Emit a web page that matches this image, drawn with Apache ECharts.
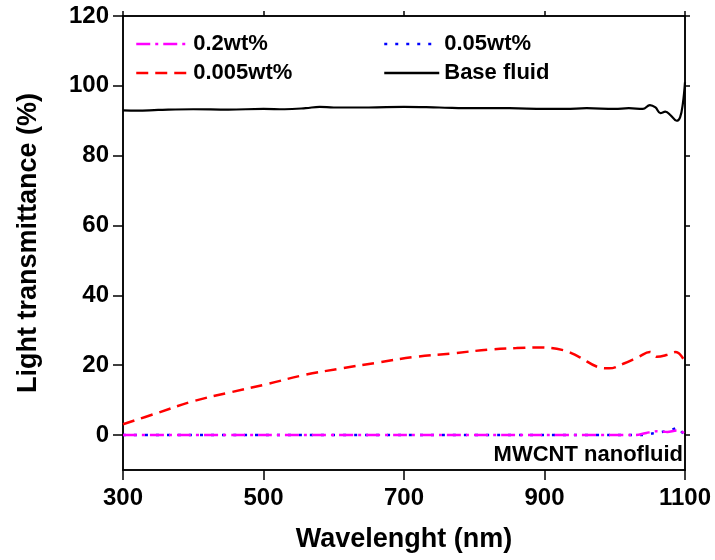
<!DOCTYPE html>
<html>
<head>
<meta charset="utf-8">
<script src="https://cdn.jsdelivr.net/npm/echarts@6.0.0/dist/echarts.min.js"></script>
<style>html,body{margin:0;padding:0;background:#fff}#c{width:715px;height:560px}</style>
</head>
<body>
<div id="c"></div>
<script>
// ---- data ----
const seriesNames = ['0.2wt%', '0.05wt%', '0.005wt%', 'Base fluid'];
const xTicks = [300, 500, 700, 900, 1100];
const yTicks = [0, 20, 40, 60, 80, 100, 120];

const baseX = [300, 320, 350, 400, 450, 500, 530, 560, 580, 600, 650, 700, 750, 800, 850, 900, 930, 960, 1000, 1020, 1040, 1050, 1058, 1065, 1072, 1080, 1088, 1093, 1097, 1100];
const baseY = [93.0, 92.9, 93.1, 93.3, 93.2, 93.4, 93.3, 93.6, 94.0, 93.8, 93.8, 94.0, 93.8, 93.6, 93.6, 93.4, 93.4, 93.6, 93.4, 93.6, 93.4, 94.5, 93.8, 92.2, 92.6, 91.5, 90.0, 91.0, 95.0, 101.0];

const redX = [300, 347, 400, 452, 505, 558, 611, 664, 716, 769, 822, 860, 891, 927, 949, 976, 992, 1013, 1034, 1050, 1060, 1075, 1087, 1100];
const redY = [3.1, 6.2, 9.7, 12.2, 14.6, 17.2, 19.1, 20.8, 22.4, 23.4, 24.5, 24.9, 25.1, 24.3, 22.4, 19.5, 19.1, 20.5, 22.4, 23.8, 22.4, 23.0, 23.8, 21.0];

const magX = [300, 500, 700, 900, 1030, 1045, 1060, 1075, 1088, 1097, 1100];
const magY = [0, 0, 0, 0, 0, 0.6, 1.1, 0.9, 1.3, 0.8, 0.3];

const blueX = [300, 500, 700, 900, 1040, 1055, 1070, 1082, 1090, 1095, 1100];
const blueY = [0, 0, 0, 0, 0, 0.5, 1.0, 1.6, 2.2, 1.0, 0];

const zip = (xs, ys) => xs.map((x, i) => [x, ys[i]]);

const FONT = 'Liberation Sans';
const chart = echarts.init(document.getElementById('c'));
const axisLine = { show: true, onZero: false, lineStyle: { color: '#000', width: 1.5 } };
const legendText = { fontFamily: FONT, fontWeight: 'bold', fontSize: 22, color: '#000' };

chart.setOption({
  animation: false,
  backgroundColor: '#fff',
  grid: { left: 123, right: 30, top: 16, bottom: 90, show: true, borderColor: '#000', borderWidth: 1.5 },
  legend: [
    { left: 130, top: 28, orient: 'vertical', itemWidth: 52, itemHeight: 14, itemGap: 7,
      data: [seriesNames[0], seriesNames[2]], itemStyle: { opacity: 0 }, lineStyle: { width: 2.5 }, textStyle: legendText },
    { left: 378, top: 28, orient: 'vertical', itemWidth: 55, itemHeight: 14, itemGap: 7,
      data: [seriesNames[1], seriesNames[3]], itemStyle: { opacity: 0 }, lineStyle: { width: 2.5 }, textStyle: legendText }
  ],
  xAxis: [
    { type: 'value', min: 300, max: 1100, interval: 200, position: 'bottom',
      name: 'Wavelenght (nm)', nameLocation: 'middle', nameGap: 56,
      nameTextStyle: { fontFamily: FONT, fontWeight: 'bold', fontSize: 27, color: '#000' },
      axisLine: axisLine, axisTick: { show: true, inside: false, length: 10, lineStyle: { color: '#000', width: 1.5 } },
      axisLabel: { margin: 16, formatter: v => String(v), fontFamily: FONT, fontWeight: 'bold', fontSize: 24, color: '#000' },
      splitLine: { show: false } },
    { type: 'value', min: 300, max: 1100, interval: 200, position: 'top',
      axisLine: axisLine, axisTick: { show: true, inside: false, length: 5, lineStyle: { color: '#000', width: 1.5 } },
      axisLabel: { show: false }, splitLine: { show: false } }
  ],
  yAxis: [
    { type: 'value', min: -10, max: 120, position: 'left',
      name: 'Light transmittance (%)', nameLocation: 'middle', nameGap: 81,
      nameTextStyle: { fontFamily: FONT, fontWeight: 'bold', fontSize: 27, color: '#000' },
      axisLine: axisLine,
      axisTick: { show: true, inside: false, length: 10, customValues: yTicks, lineStyle: { color: '#000', width: 1.5 } },
      axisLabel: { margin: 14, customValues: yTicks, fontFamily: FONT, fontWeight: 'bold', fontSize: 24, color: '#000' },
      splitLine: { show: false } },
    { type: 'value', min: -10, max: 120, position: 'right',
      axisLine: axisLine,
      axisTick: { show: true, inside: false, length: 5, customValues: yTicks, lineStyle: { color: '#000', width: 1.5 } },
      axisLabel: { show: false }, splitLine: { show: false } }
  ],
  graphic: [
    { type: 'text', right: 32, top: 444,
      style: { text: 'MWCNT nanofluid', fontFamily: FONT, fontWeight: 'bold', fontSize: 22, fill: '#000' } }
  ],
  series: [
    { name: seriesNames[3], type: 'line', data: zip(baseX, baseY), smooth: 0.4, showSymbol: false, symbol: 'none', z: 2,
      lineStyle: { color: '#000', width: 2.2, type: 'solid' }, itemStyle: { color: '#000' } },
    { name: seriesNames[2], type: 'line', data: zip(redX, redY), smooth: 0.4, showSymbol: false, symbol: 'none', z: 3,
      lineStyle: { color: '#ff0000', width: 2.5, type: [12, 7] }, itemStyle: { color: '#ff0000' } },
    { name: seriesNames[1], type: 'line', data: zip(blueX, blueY), smooth: 0.3, showSymbol: false, symbol: 'none', z: 4,
      lineStyle: { color: '#0000ff', width: 2.5, type: [3, 8] }, itemStyle: { color: '#0000ff' } },
    { name: seriesNames[0], type: 'line', data: zip(magX, magY), smooth: 0.3, showSymbol: false, symbol: 'none', z: 5,
      lineStyle: { color: '#ff00ff', width: 2.5, type: [14, 5, 3, 5] }, itemStyle: { color: '#ff00ff' } }
  ]
});
</script>
</body>
</html>
